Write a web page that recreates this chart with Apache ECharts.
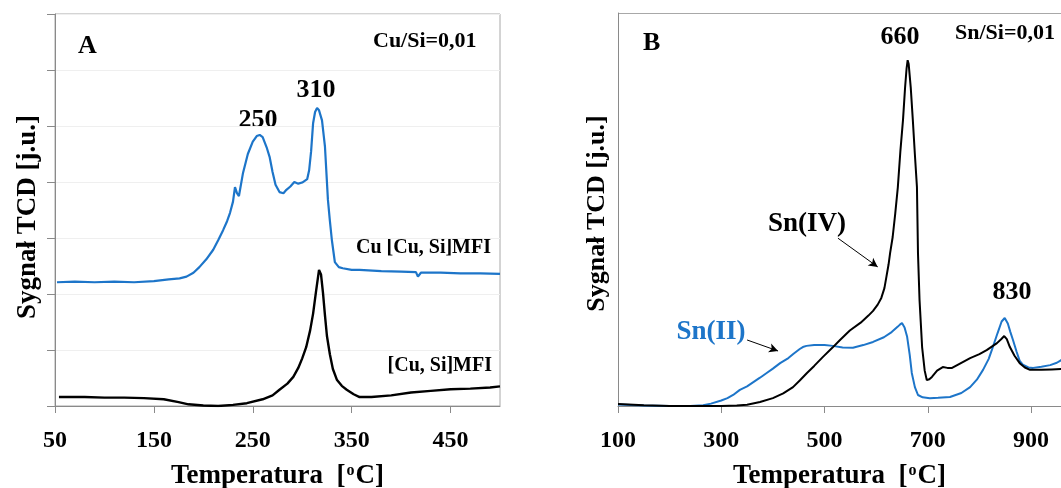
<!DOCTYPE html>
<html>
<head>
<meta charset="utf-8">
<script src="https://cdn.jsdelivr.net/npm/echarts@6/dist/echarts.min.js"></script>
<style>
html,body{margin:0;padding:0;background:#fff;}
#c{width:1061px;height:488px;}
</style>
</head>
<body>
<div id="c"></div>
<script>
// ---------- Panel A: Cu/Si = 0,01 ----------
const tempA_blue = [52,70,90,110,130,150,165,176,183,190,196,203,210,215,220,224,227,230,232,234,236,240,245,250,254,257,260,264,267,270,273,277,281,284,288,292,296,300,302,305,307,309,311,313,315,317,320,323,326,328,330,333,337,341,350,358,380,400,415,417,420,440,460,480,500];
const valA_blue  = [2.21,2.22,2.21,2.22,2.21,2.23,2.26,2.28,2.31,2.38,2.48,2.62,2.79,2.96,3.14,3.30,3.45,3.65,3.91,3.80,3.75,4.15,4.50,4.72,4.82,4.84,4.80,4.62,4.45,4.18,3.95,3.82,3.80,3.86,3.92,4.00,3.97,3.99,3.98,4.05,4.21,4.55,5.05,5.25,5.32,5.28,5.10,4.63,3.68,3.30,2.96,2.57,2.48,2.46,2.43,2.43,2.41,2.40,2.39,2.31,2.38,2.38,2.37,2.37,2.36];

const tempA_black = [54,80,100,120,140,160,175,185,200,215,230,244,260,270,277,285,291,296,300,304,308,311,314,317,319,321,323,325,328,331,335,340,345,352,358,370,390,410,430,450,470,490,500];
const valA_black  = [0.16,0.16,0.15,0.15,0.14,0.12,0.07,0.03,0.01,0.00,0.02,0.05,0.12,0.19,0.29,0.40,0.52,0.68,0.85,1.05,1.35,1.65,2.05,2.43,2.35,2.02,1.62,1.25,0.92,0.66,0.47,0.36,0.29,0.21,0.16,0.16,0.19,0.24,0.27,0.30,0.31,0.33,0.35];

const nameA_blue  = 'Cu [Cu, Si]MFI';
const nameA_black = '[Cu, Si]MFI';

// ---------- Panel B: Sn/Si = 0,01 ----------
const tempB_IV = [100,150,200,250,300,330,350,375,400,420,439,452,466,480,497,515,530,549,570,585,594,603,610,616,620,624,627,632,637,642,647,652,656,659,661,663,667,671,675,679,681,684,689,694,698,703,708,718,729,738,747,765,782,800,814,834,842,848,853,859,868,878,888,898,920,940,960];
const valB_IV  = [0.05,0.02,0.00,0.00,0.00,0.01,0.03,0.10,0.20,0.32,0.48,0.65,0.84,1.02,1.25,1.48,1.68,1.92,2.12,2.30,2.42,2.58,2.75,3.00,3.30,3.60,3.89,4.30,4.90,5.57,6.50,7.28,8.10,8.60,8.80,8.70,8.10,7.28,6.40,5.57,3.89,2.70,1.50,0.90,0.66,0.68,0.74,0.90,0.99,0.97,0.97,1.10,1.22,1.32,1.42,1.60,1.70,1.78,1.70,1.50,1.28,1.09,0.98,0.92,0.92,0.93,0.94];

const tempB_II = [100,150,200,240,265,280,300,312,323,336,350,375,388,400,414,430,440,452,458,465,480,500,516,535,555,575,594,615,630,642,646,650,655,660,665,669,675,681,690,704,720,743,765,782,795,807,818,826,835,843,849,855,860,865,872,878,884,895,904,920,937,950,960];
const valB_II  = [0.04,0.01,0.00,0.00,0.02,0.06,0.14,0.20,0.28,0.41,0.50,0.72,0.84,0.95,1.09,1.22,1.33,1.45,1.50,1.53,1.55,1.55,1.53,1.49,1.48,1.55,1.63,1.75,1.88,2.02,2.07,2.11,2.00,1.76,1.30,0.84,0.48,0.28,0.22,0.20,0.21,0.23,0.33,0.48,0.67,0.92,1.20,1.50,1.85,2.15,2.24,2.10,1.88,1.68,1.38,1.15,1.05,0.98,0.97,1.00,1.04,1.10,1.18];

const nameB_IV = 'Sn(IV)';
const nameB_II = 'Sn(II)';

// tick/axis texts
const xTitle = 'Temperatura  [{s|o}C]';
const yTitle = 'Sygnał TCD [j.u.]';

// ---------- styling ----------
const SERIF = "'Liberation Serif','Times New Roman',serif";
const BLUE = '#1d75c9';
const AXIS = '#8a8a8a';
const BORDER = '#a8a8a8';

const zip = (xs, ys) => xs.map((x, i) => [x, ys[i]]);

const xAxisCommon = {
  type: 'value',
  nameLocation: 'middle',
  nameGap: 57,
  name: xTitle,
  nameTextStyle: {
    fontFamily: SERIF, fontWeight: 'bold', fontSize: 27, color: '#000',
    rich: { s: { fontFamily: SERIF, fontWeight: 'bold', fontSize: 16, verticalAlign: 'top', color: '#000', padding: [0, 1, 0, 1] } }
  },
  axisLine: { show: true, lineStyle: { color: AXIS, width: 1 } },
  axisTick: { show: true, inside: false, length: 7, lineStyle: { color: AXIS } },
  axisLabel: { fontFamily: SERIF, fontWeight: 'bold', fontSize: 24, color: '#000', margin: 23, showMaxLabel: false },
  splitLine: { show: false }
};

function txt(left, y, text, size, color, align) {
  return {
    type: 'text', x: left, y: y, silent: true,
    style: { text: text, fontFamily: SERIF, fontWeight: 'bold', fontSize: size, fill: color || '#000',
             textAlign: align || 'left', textVerticalAlign: 'middle' }
  };
}

const option = {
  animation: false,
  backgroundColor: '#fff',
  grid: [
    { left: 55, top: 14, width: 445, height: 392, show: true, borderColor: BORDER, borderWidth: 1, containLabel: false, outerBoundsMode: 'none' },
    { left: 618, top: 13, width: 443, height: 393, show: false, containLabel: false, outerBoundsMode: 'none' }
  ],
  xAxis: [
    Object.assign({}, xAxisCommon, { gridIndex: 0, min: 50, max: 500, interval: 100 }),
    Object.assign({}, xAxisCommon, { gridIndex: 1, min: 100, max: 958, interval: 200 })
  ],
  yAxis: [
    {
      type: 'value', gridIndex: 0, min: 0, max: 7, interval: 1,
      name: yTitle, nameLocation: 'middle', nameGap: 13,
      nameTextStyle: { fontFamily: SERIF, fontWeight: 'bold', fontSize: 27, color: '#000', padding: [0, 14, 0, 0] },
      axisLine: { show: true, lineStyle: { color: AXIS } },
      axisTick: { show: true, inside: false, length: 8, lineStyle: { color: AXIS } },
      axisLabel: { show: false },
      splitLine: { show: true, lineStyle: { color: '#efefef', width: 1 } }
    },
    {
      type: 'value', gridIndex: 1, min: 0, max: 10, interval: 1,
      name: yTitle, nameLocation: 'middle', nameGap: 8,
      nameTextStyle: { fontFamily: SERIF, fontWeight: 'bold', fontSize: 26, color: '#000', padding: [0, 8, 0, 0] },
      axisLine: { show: true, lineStyle: { color: AXIS } },
      axisTick: { show: false },
      axisLabel: { show: false },
      splitLine: { show: false }
    }
  ],
  series: [
    { name: nameA_blue, type: 'line', xAxisIndex: 0, yAxisIndex: 0, data: zip(tempA_blue, valA_blue),
      showSymbol: false, lineStyle: { color: BLUE, width: 2.2 }, itemStyle: { color: BLUE } },
    { name: nameA_black, type: 'line', xAxisIndex: 0, yAxisIndex: 0, data: zip(tempA_black, valA_black),
      showSymbol: false, lineStyle: { color: '#000', width: 2.4 }, itemStyle: { color: '#000' } },
    { name: nameB_II, type: 'line', xAxisIndex: 1, yAxisIndex: 1, data: zip(tempB_II, valB_II),
      showSymbol: false, smooth: false, lineStyle: { color: BLUE, width: 2 }, itemStyle: { color: BLUE },
      markLine: { silent: true, symbol: ['none', 'arrow'], symbolSize: [7, 9], label: { show: false },
        lineStyle: { color: '#000', width: 1, type: 'solid' },
        data: [[{ coord: [350, 1.68] }, { coord: [410, 1.40] }]] } },
    { name: nameB_IV, type: 'line', xAxisIndex: 1, yAxisIndex: 1, data: zip(tempB_IV, valB_IV),
      showSymbol: false, smooth: false, lineStyle: { color: '#000', width: 2 }, itemStyle: { color: '#000' },
      markLine: { silent: true, symbol: ['none', 'arrow'], symbolSize: [7, 9], label: { show: false },
        lineStyle: { color: '#000', width: 1, type: 'solid' },
        data: [[{ coord: [526, 4.27] }, { coord: [603, 3.54] }]] } }
  ],
  graphic: [
    { type: 'line', silent: true, shape: { x1: 618, y1: 13.5, x2: 1061, y2: 13.5 }, style: { stroke: BORDER, lineWidth: 1 } },
    txt(78, 46, 'A', 26),
    txt(373, 41, 'Cu/Si=0,01', 22),
    txt(258, 120, '250', 26, '#000', 'center'),
    txt(316, 90, '310', 26, '#000', 'center'),
    txt(491, 248, nameA_blue, 20, '#000', 'right'),
    txt(492, 366, nameA_black, 20, '#000', 'right'),
    txt(643, 43, 'B', 26),
    txt(900, 37, '660', 26, '#000', 'center'),
    txt(955, 33, 'Sn/Si=0,01', 22),
    txt(807, 224, nameB_IV, 27, '#000', 'center'),
    txt(711, 332, nameB_II, 27, BLUE, 'center'),
    txt(1012, 292, '830', 26, '#000', 'center')
  ]
};

const chart = echarts.init(document.getElementById('c'), null, { renderer: 'canvas' });
chart.setOption(option);
</script>
</body>
</html>
